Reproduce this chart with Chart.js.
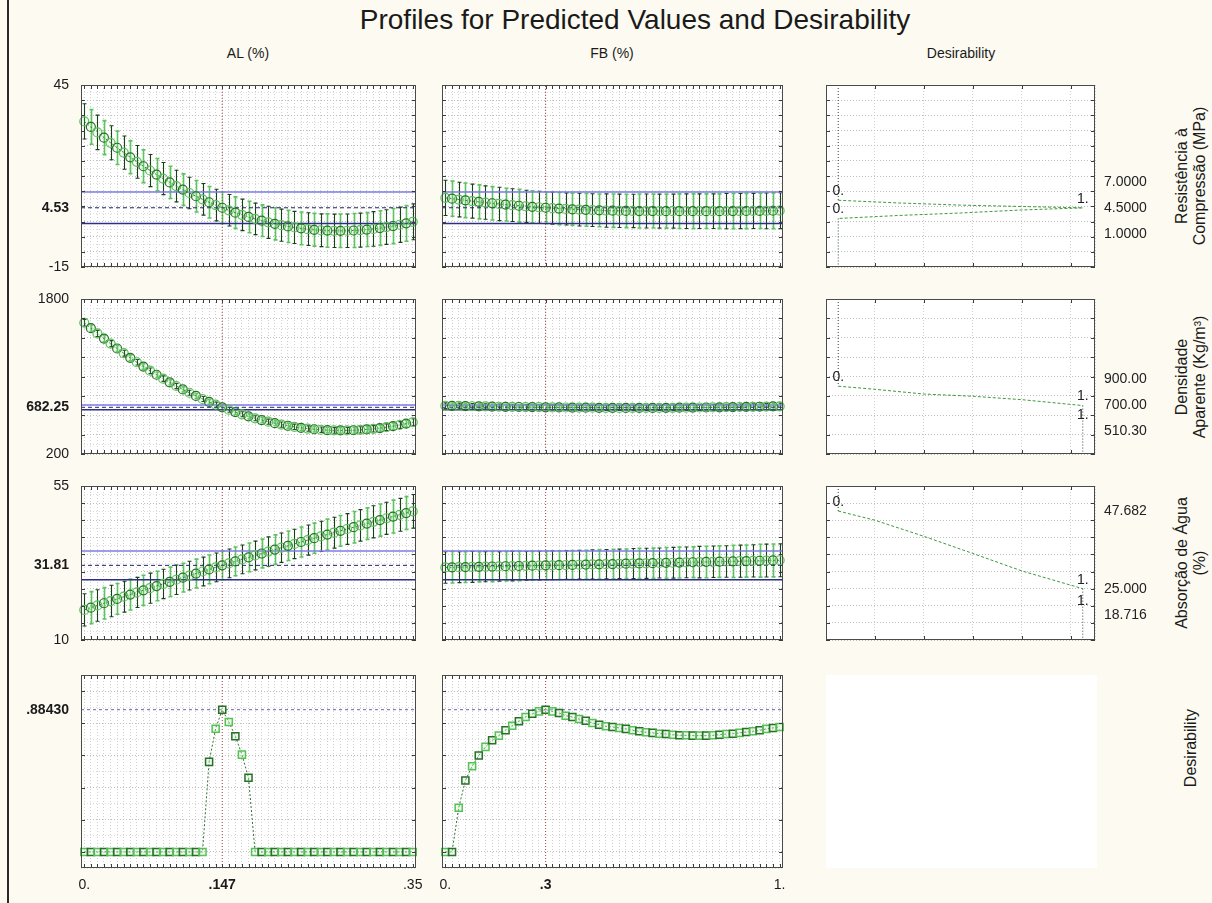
<!DOCTYPE html>
<html lang="pt">
<head>
<meta charset="utf-8">
<title>Profiles for Predicted Values and Desirability</title>
<script src="https://cdn.jsdelivr.net/npm/chart.js@4.4.1/dist/chart.umd.min.js"></script>
<style>
  html, body { margin: 0; padding: 0; }
  body { width: 1212px; height: 903px; position: relative; overflow: hidden; background: #fcfaf1;
         font-family: "Liberation Sans", Arial, sans-serif; color: #1a1a1a; }
  .edge { position: absolute; left: 7px; top: 0; width: 2px; height: 903px; background: #2a2a2a; }
  .title { position: absolute; left: 635px; top: 20px; transform: translate(-50%, -50%); font-size: 28px; white-space: nowrap; }
  .head { position: absolute; top: 53px; transform: translate(-50%, -50%); font-size: 14px; white-space: nowrap; }
  .side { position: absolute; transform: translate(-50%, -50%) rotate(-90deg); font-size: 16px; line-height: 18px;
          text-align: center; white-space: nowrap; }
  .blank { position: absolute; left: 826px; top: 675px; width: 271px; height: 193px; background: #ffffff; }
  canvas { position: absolute; }
</style>
</head>
<body>
<div class="edge"></div>
<div class="title">Profiles for Predicted Values and Desirability</div>
<div class="blank"></div>
<script>
// ---------- factor levels ----------
const alLevels = [0, .007, .014, .021, .028, .035, .042, .049, .056, .063,
  .07, .077, .084, .091, .098, .105, .112, .119, .126, .133,
  .14, .147, .154, .161, .168, .175, .182, .189, .196, .203,
  .21, .217, .224, .231, .238, .245, .252, .259, .266, .273,
  .28, .287, .294, .301, .308, .315, .322, .329, .336, .343, .35];
const fbLevels = [0, .02, .04, .06, .08, .1, .12, .14, .16, .18,
  .2, .22, .24, .26, .28, .3, .32, .34, .36, .38,
  .4, .42, .44, .46, .48, .5, .52, .54, .56, .58,
  .6, .62, .64, .66, .68, .7, .72, .74, .76, .78,
  .8, .82, .84, .86, .88, .9, .92, .94, .96, .98, 1];

// ---------- predicted responses and confidence half-widths ----------
const resAL = [33.00, 31.17, 29.38, 27.64, 25.95, 24.31, 22.71, 21.17, 19.67, 18.22,
  16.81, 15.46, 14.15, 12.89, 11.68, 10.51, 9.40, 8.33, 7.31, 6.34,
  5.41, 4.53, 3.70, 2.92, 2.19, 1.50, 0.86, 0.27, -0.27, -0.76,
  -1.21, -1.61, -1.96, -2.26, -2.52, -2.73, -2.89, -3.00, -3.06, -3.08,
  -3.05, -2.97, -2.84, -2.66, -2.44, -2.17, -1.85, -1.49, -1.07, -0.61, -0.10];
const resALci = [5.8, 5.7, 5.7, 5.6, 5.6, 5.5, 5.5, 5.4, 5.4, 5.4,
  5.3, 5.3, 5.3, 5.3, 5.2, 5.2, 5.2, 5.2, 5.2, 5.2,
  5.2, 5.2, 5.2, 5.2, 5.2, 5.2, 5.2, 5.2, 5.3, 5.3,
  5.3, 5.3, 5.3, 5.4, 5.4, 5.4, 5.4, 5.5, 5.5, 5.5,
  5.5, 5.6, 5.6, 5.6, 5.7, 5.7, 5.7, 5.8, 5.8, 5.9, 5.9];
const resFB = [7.80, 7.51, 7.24, 6.97, 6.72, 6.47, 6.23, 6.01, 5.79, 5.58,
  5.38, 5.19, 5.02, 4.85, 4.69, 4.53, 4.40, 4.27, 4.15, 4.03,
  3.93, 3.84, 3.76, 3.69, 3.62, 3.57, 3.53, 3.49, 3.47, 3.45,
  3.45, 3.44, 3.43, 3.42, 3.41, 3.40, 3.40, 3.40, 3.40, 3.41,
  3.41, 3.42, 3.43, 3.44, 3.45, 3.46, 3.48, 3.50, 3.52, 3.54, 3.56];
const resFBci = [5.8, 5.8, 5.7, 5.7, 5.6, 5.6, 5.5, 5.5, 5.5, 5.4,
  5.4, 5.4, 5.3, 5.3, 5.3, 5.2, 5.3, 5.3, 5.3, 5.3,
  5.4, 5.4, 5.4, 5.4, 5.5, 5.5, 5.5, 5.5, 5.5, 5.6,
  5.6, 5.6, 5.6, 5.6, 5.6, 5.7, 5.7, 5.7, 5.7, 5.7,
  5.7, 5.7, 5.8, 5.8, 5.8, 5.8, 5.8, 5.8, 5.9, 5.9, 5.9];
const denAL = [1555.0, 1498.9, 1444.3, 1391.2, 1339.5, 1289.2, 1240.4, 1193.1, 1147.2, 1102.7,
  1059.7, 1018.1, 978.0, 939.4, 902.1, 866.4, 832.1, 799.2, 767.8, 737.8,
  709.3, 682.25, 656.6, 632.5, 609.8, 588.5, 568.7, 550.3, 533.4, 517.9,
  503.9, 491.4, 480.2, 470.6, 462.4, 455.6, 450.3, 446.4, 444.0, 443.0,
  443.5, 445.4, 448.8, 453.6, 459.9, 467.6, 476.8, 487.4, 499.5, 513.0, 528.0];
const denALci = [34, 33, 32, 32, 31, 31, 30, 30, 29, 29,
  28, 28, 28, 27, 27, 27, 26, 26, 26, 26,
  26, 26, 26, 26, 26, 26, 26, 26, 27, 27,
  27, 27, 28, 28, 28, 29, 29, 29, 30, 30,
  31, 31, 32, 32, 33, 33, 34, 34, 35, 36, 36];
const denFB = [698, 697, 696, 694, 693, 692, 691, 689, 688, 687,
  686, 685, 684, 684, 683, 682.25, 681, 681, 680, 679,
  679, 678, 678, 677, 677, 677, 676, 676, 676, 676,
  676, 676, 677, 677, 677, 678, 678, 679, 680, 680,
  681, 682, 683, 684, 685, 686, 687, 688, 689, 691, 692];
const denFBci = [30, 30, 29, 29, 28, 28, 28, 27, 27, 27,
  27, 26, 26, 26, 26, 26, 26, 26, 26, 26,
  26, 26, 27, 27, 27, 27, 27, 27, 28, 28,
  28, 28, 28, 29, 29, 29, 29, 29, 30, 30,
  30, 30, 31, 31, 31, 31, 32, 32, 32, 33, 33];
const absAL = [18.80, 19.45, 20.09, 20.74, 21.38, 22.01, 22.65, 23.28, 23.91, 24.53,
  25.15, 25.77, 26.39, 27.00, 27.61, 28.22, 28.82, 29.42, 30.02, 30.62,
  31.21, 31.81, 32.38, 32.97, 33.55, 34.13, 34.70, 35.27, 35.84, 36.41,
  36.97, 37.53, 38.08, 38.64, 39.19, 39.74, 40.28, 40.82, 41.36, 41.90,
  42.43, 42.96, 43.49, 44.01, 44.53, 45.05, 45.57, 46.08, 46.59, 47.10, 47.60];
const absALci = [4.7, 4.7, 4.6, 4.6, 4.6, 4.5, 4.5, 4.5, 4.4, 4.4,
  4.4, 4.3, 4.3, 4.3, 4.3, 4.2, 4.2, 4.2, 4.2, 4.2,
  4.2, 4.2, 4.2, 4.2, 4.2, 4.2, 4.2, 4.2, 4.3, 4.3,
  4.3, 4.3, 4.3, 4.4, 4.4, 4.4, 4.4, 4.5, 4.5, 4.5,
  4.5, 4.6, 4.6, 4.6, 4.7, 4.7, 4.7, 4.8, 4.8, 4.8, 4.9];
const absFB = [31.20, 31.24, 31.28, 31.31, 31.35, 31.39, 31.43, 31.47, 31.51, 31.55,
  31.59, 31.63, 31.67, 31.71, 31.75, 31.81, 31.83, 31.87, 31.91, 31.95,
  31.99, 32.04, 32.08, 32.12, 32.16, 32.20, 32.24, 32.29, 32.33, 32.37,
  32.41, 32.46, 32.50, 32.54, 32.58, 32.63, 32.67, 32.72, 32.76, 32.80,
  32.85, 32.89, 32.94, 32.98, 33.03, 33.07, 33.12, 33.16, 33.21, 33.25, 33.30];
const absFBci = [4.6, 4.6, 4.5, 4.5, 4.5, 4.4, 4.4, 4.4, 4.3, 4.3,
  4.3, 4.3, 4.2, 4.2, 4.2, 4.2, 4.2, 4.2, 4.2, 4.2,
  4.2, 4.2, 4.3, 4.3, 4.3, 4.3, 4.3, 4.3, 4.4, 4.4,
  4.4, 4.4, 4.4, 4.5, 4.5, 4.5, 4.5, 4.5, 4.6, 4.6,
  4.6, 4.6, 4.6, 4.7, 4.7, 4.7, 4.7, 4.8, 4.8, 4.8, 4.8];

// ---------- overall desirability ----------
const desAL = [0, 0, 0, 0, 0, 0, 0, 0, 0, 0,
  0, 0, 0, 0, 0, 0, 0, 0, 0, 0.56,
  0.766, 0.8843, 0.808, 0.719, 0.605, 0.461, 0, 0, 0, 0,
  0, 0, 0, 0, 0, 0, 0, 0, 0, 0,
  0, 0, 0, 0, 0, 0, 0, 0, 0, 0, 0];
const desFB = [0, 0, 0.275, 0.444, 0.533, 0.599, 0.653, 0.694, 0.723, 0.756,
  0.785, 0.812, 0.839, 0.859, 0.874, 0.8843, 0.874, 0.864, 0.847, 0.839,
  0.826, 0.816, 0.802, 0.791, 0.781, 0.777, 0.771, 0.765, 0.756, 0.750,
  0.744, 0.740, 0.735, 0.733, 0.729, 0.725, 0.725, 0.723, 0.723, 0.723,
  0.725, 0.729, 0.733, 0.735, 0.740, 0.746, 0.750, 0.756, 0.765, 0.771, 0.777];

// ---------- current settings ----------
const alCurrent = 0.147;
const fbCurrent = 0.3;
const predCurrent = [4.53, 682.25, 31.81];
const ciLower = [-0.67, 657, 27.6];
const ciUpper = [9.73, 707, 36.0];
const desCurrent = 0.8843;

// ---------- axis labels ----------
const yTickValues = [[-15, 4.53, 45], [200, 682.25, 1800], [10, 31.81, 55], [0.8843]];
const yTickLabels = [['-15', '4.53', '45'], ['200', '682.25', '1800'], ['10', '31.81', '55'], ['.88430']];
const alTickValues = [0, 0.147, 0.35];
const alTickLabels = ['0.', '.147', '.35'];
const fbTickValues = [0, 0.3, 1];
const fbTickLabels = ['0.', '.3', '1.'];
const factorNames = ['AL (%)', 'FB (%)', 'Desirability'];
const responseNames = [['Resistência à', 'Compressão (MPa)'], ['Densidade', 'Aparente (Kg/m³)'],
  ['Absorção de Água', '(%)'], ['Desirability']];

// ---------- desirability functions (high, target, low) ----------
const specValues = [[7.0, 4.5, 1.0], [900, 700, 510.3], [47.682, 25, 18.716]];
const specLabels = [['7.0000', '4.5000', '1.0000'], ['900.00', '700.00', '510.30'], ['47.682', '25.000', '18.716']];
const specDes = [[0, 1, 0], [0, 1, 1], [0, 1, 1]];
const resDfnD = [0, 0, 0.25, 0.5, 0.75, 1, 0.75, 0.5, 0.25, 0, 0];
const resDfnY = [45, 7.0, 6.1, 5.4, 4.95, 4.5, 3.8, 2.8, 2.0, 1.0, -15];
const denDfnD = [0, 0, 0.15, 0.35, 0.55, 0.75, 1, 1, 1];
const denDfnY = [1800, 900, 868, 819, 796, 761, 700, 510.3, 200];
const absDfnD = [0, 0, 0.15, 0.35, 0.55, 0.75, 1, 1, 1];
const absDfnY = [55, 47.682, 45.0, 40.3, 35.3, 30.2, 25.0, 18.716, 10];

// ---------- layout and style ----------
const FONT = '"Liberation Sans", Arial, sans-serif';
Chart.defaults.font.family = FONT;
Chart.defaults.font.size = 14;
Chart.defaults.color = '#1a1a1a';

const colBox = [{ l: 81, w: 335 }, { l: 442, w: 341 }, { l: 826, w: 269 }];
const rowBox = [{ t: 85, h: 182 }, { t: 299, h: 155 }, { t: 486, h: 154 }, { t: 675, h: 193 }];
const sideTitleY = [176, 377, 563, 748];
const rowScale = [
  { min: -15, max: 45, minor: 2.5, major: 5 },
  { min: 200, max: 1800, minor: 100, major: 200 },
  { min: 10, max: 55, minor: 2.5, major: 5 },
  { min: -0.1, max: 1.1, minor: 0.1, major: 0.2 }
];
const dGrid = [-0.05, 0.15, 0.35, 0.55, 0.75, 0.95, 1.05];
const PAD = 24;
const markerDark = '#2a6e2a', markerLight = '#56c256';
const barStyles = [{ color: '#183f18', width: 1.1 }, { color: '#5cc45c', width: 1.6 }];

function stepTicks(min, max, step) {
  const out = [];
  const n = Math.round((max - min) / step);
  for (let k = 0; k <= n; k++) out.push(+(min + k * step).toFixed(6));
  return out;
}
const isMajor = (v, step) => Math.abs(v / step - Math.round(v / step)) < 1e-6;

function addCanvas(l, t, w, h) {
  const c = document.createElement('canvas');
  c.width = w; c.height = h;
  c.style.left = l + 'px'; c.style.top = t + 'px';
  c.style.width = w + 'px'; c.style.height = h + 'px';
  document.body.appendChild(c);
  return c;
}

// ---------- plugins ----------
const errorBars = {
  id: 'errorBars',
  beforeDatasetsDraw(chart, args, opts) {
    const { ctx, chartArea: a } = chart;
    chart.data.datasets.forEach((ds, di) => {
      if (!ds.err) return;
      const meta = chart.getDatasetMeta(di);
      const xs = chart.scales[meta.xAxisID], ys = chart.scales[meta.yAxisID];
      ctx.save();
      ctx.beginPath(); ctx.rect(a.left, a.top, a.width, a.height); ctx.clip();
      ds.data.forEach((p, i) => {
        const x = Math.round(xs.getPixelForValue(p.x)) + 0.5;
        const lo = ys.getPixelForValue(p.y - ds.err[i]);
        const hi = ys.getPixelForValue(p.y + ds.err[i]);
        const st = opts.styles[i % 2];
        ctx.strokeStyle = st.color; ctx.lineWidth = st.width;
        ctx.beginPath();
        ctx.moveTo(x, lo); ctx.lineTo(x, hi);
        ctx.moveTo(x - 2, lo); ctx.lineTo(x + 2, lo);
        ctx.moveTo(x - 2, hi); ctx.lineTo(x + 2, hi);
        ctx.stroke();
      });
      ctx.restore();
    });
  }
};

const panelFrame = {
  id: 'panelFrame',
  beforeDraw(chart) {
    const { ctx, chartArea: a } = chart;
    ctx.save(); ctx.fillStyle = '#ffffff'; ctx.fillRect(a.left, a.top, a.width, a.height); ctx.restore();
  },
  afterDraw(chart, args, o) {
    const { ctx, chartArea: a } = chart;
    const xs = chart.scales.x, ys = chart.scales.y;
    ctx.save();
    ctx.strokeStyle = '#3a3a3a'; ctx.lineWidth = 1;
    ctx.beginPath();
    o.xMarks.forEach(v => {
      const p = Math.round(xs.getPixelForValue(v)) + 0.5;
      ctx.moveTo(p, a.top); ctx.lineTo(p, a.top + o.len);
      ctx.moveTo(p, a.bottom); ctx.lineTo(p, a.bottom - o.len);
    });
    o.yMarks.forEach(v => {
      const p = Math.round(ys.getPixelForValue(v)) + 0.5;
      ctx.moveTo(a.left, p); ctx.lineTo(a.left + o.len, p);
      ctx.moveTo(a.right, p); ctx.lineTo(a.right - o.len, p);
    });
    ctx.stroke();
    ctx.strokeStyle = '#4a4a4a';
    ctx.strokeRect(a.left + 0.5, a.top + 0.5, a.width - 1, a.height - 1);
    ctx.restore();
  }
};

const dfnText = {
  id: 'dfnText',
  afterDatasetsDraw(chart, args, o) {
    const { ctx, chartArea: a } = chart;
    const xs = chart.scales.x, ys = chart.scales.y;
    ctx.save();
    ctx.font = '14px ' + FONT; ctx.fillStyle = '#222';
    ctx.textAlign = 'center'; ctx.textBaseline = 'middle';
    o.values.forEach((v, i) => {
      ctx.fillText(o.des[i] ? '1.' : '0.', xs.getPixelForValue(o.des[i]), ys.getPixelForValue(v) - 9);
    });
    // value labels on the right, spread apart around the target
    const pos = o.values.map(v => ys.getPixelForValue(v));
    pos[0] = Math.min(pos[0], pos[1] - o.gap);
    pos[2] = Math.max(pos[2], pos[1] + o.gap);
    ctx.textAlign = 'left';
    o.labels.forEach((t, i) => ctx.fillText(t, a.right + 9, pos[i]));
    ctx.restore();
  }
};

function gridScales(xmin, xmax, xTicks, sc) {
  const yT = stepTicks(sc.min, sc.max, sc.minor);
  return {
    x: {
      type: 'linear', min: xmin, max: xmax, position: 'bottom',
      afterBuildTicks: s => { s.ticks = xTicks.map(v => ({ value: v })); },
      ticks: { display: false },
      grid: { drawTicks: false, color: '#d0d0d0', lineWidth: 1 },
      border: { display: false, dash: [1, 2] }
    },
    y: {
      type: 'linear', min: sc.min, max: sc.max, position: 'left',
      afterBuildTicks: s => { s.ticks = yT.map(v => ({ value: v })); },
      ticks: { display: false },
      grid: { drawTicks: false, lineWidth: 1,
              color: c => (c.tick && isMajor(c.tick.value, sc.major)) ? '#bcbcbc' : '#dcdcdc' },
      border: { display: false, dash: [1, 2] }
    }
  };
}

// ---------- one profile panel (columns 1 and 2) ----------
function profilePanel(r, c, xs, ys, ci, cur, xTickVals, xTickLbls) {
  const cb = colBox[c], rb = rowBox[r], sc = rowScale[r];
  const isDes = r === 3;
  const leftW = c === 0 ? cb.l : PAD;
  const bottom = isDes ? 34 : PAD;
  const canvas = addCanvas(cb.l - leftW, rb.t - PAD, leftW + cb.w + PAD, PAD + rb.h + bottom);
  const span = xs[xs.length - 1] - xs[0];
  const xmin = xs[0] - 0.01 * span, xmax = xs[xs.length - 1] + 0.01 * span;

  const datasets = [{
    data: xs.map((x, i) => ({ x, y: ys[i] })),
    err: ci,
    borderColor: '#2f6f2f', borderWidth: 1, borderDash: [2, 2],
    pointStyle: isDes ? 'rect' : 'circle',
    pointRadius: isDes ? 5 : 4.5,
    pointBorderWidth: isDes ? 1.5 : 1.2,
    pointBorderColor: xs.map((_, i) => i % 2 ? markerDark : markerLight),
    pointBackgroundColor: isDes ? 'rgba(200,240,200,0.35)' : 'rgba(140,220,140,0.12)',
    clip: false
  }];
  if (!isDes) {
    datasets.push({ data: [{ x: xmin, y: ciUpper[r] }, { x: xmax, y: ciUpper[r] }],
      borderColor: '#7d7de6', borderWidth: 1.5, pointRadius: 0 });
    datasets.push({ data: [{ x: xmin, y: ciLower[r] }, { x: xmax, y: ciLower[r] }],
      borderColor: '#2e2e88', borderWidth: 1.5, pointRadius: 0 });
    datasets.push({ data: [{ x: xmin, y: predCurrent[r] }, { x: xmax, y: predCurrent[r] }],
      borderColor: '#25256e', borderWidth: 1, borderDash: [4, 3], pointRadius: 0 });
  } else {
    datasets.push({ data: [{ x: xmin, y: desCurrent }, { x: xmax, y: desCurrent }],
      borderColor: '#6464b4', borderWidth: 1, borderDash: [3, 3], pointRadius: 0 });
  }
  datasets.push({ data: [{ x: cur, y: sc.min }, { x: cur, y: sc.max }],
    borderColor: '#a84848', borderWidth: 1, borderDash: [1, 2], pointRadius: 0 });

  const scales = gridScales(xmin, xmax, xs, sc);
  const boldY = isDes ? desCurrent : predCurrent[r];
  if (c === 0) {
    scales.yl = {
      type: 'linear', min: sc.min, max: sc.max, position: 'left',
      afterBuildTicks: s => { s.ticks = yTickValues[r].map(v => ({ value: v })); },
      afterFit: s => { s.width = leftW; },
      grid: { display: false, drawTicks: false }, border: { display: false },
      ticks: { padding: 12, autoSkip: false, callback: (v, i) => yTickLabels[r][i],
               font: ctx => ({ size: 14, weight: (ctx.tick && ctx.tick.value === boldY) ? 'bold' : 'normal' }) }
    };
  }
  if (isDes) {
    scales.xl = {
      type: 'linear', min: xmin, max: xmax, position: 'bottom',
      afterBuildTicks: s => { s.ticks = xTickVals.map(v => ({ value: v })); },
      afterFit: s => { s.height = 30; },
      grid: { display: false, drawTicks: false }, border: { display: false },
      ticks: { padding: 9, autoSkip: false, maxRotation: 0, callback: (v, i) => xTickLbls[i],
               font: ctx => ({ size: 14, weight: (ctx.tick && Math.abs(ctx.tick.value - cur) < 1e-9) ? 'bold' : 'normal' }) }
    };
  }

  new Chart(canvas, {
    type: 'line',
    data: { datasets },
    options: {
      responsive: false, animation: false, devicePixelRatio: 1, events: [],
      layout: { padding: { left: c === 0 ? 0 : PAD, right: PAD, top: PAD, bottom: isDes ? 4 : PAD } },
      plugins: {
        legend: { display: false }, tooltip: { enabled: false },
        errorBars: { styles: barStyles },
        panelFrame: { xMarks: xs, yMarks: stepTicks(isDes ? 0 : sc.min, isDes ? 1 : sc.max, sc.major), len: 4 }
      },
      scales
    },
    plugins: [panelFrame, errorBars]
  });
}

// ---------- one desirability-function panel (column 3) ----------
function desirabilityPanel(r, dArr, yArr) {
  const cb = colBox[2], rb = rowBox[r], sc = rowScale[r];
  const right = 90;
  const canvas = addCanvas(cb.l - PAD, rb.t - PAD, PAD + cb.w + right, PAD + rb.h + PAD);
  const scales = gridScales(-0.05, 1.05, dGrid, { min: sc.min, max: sc.max, minor: sc.major, major: sc.major });
  const vertical = c => c.p0.parsed.x === c.p1.parsed.x;
  new Chart(canvas, {
    type: 'line',
    data: {
      datasets: [{
        data: dArr.map((d, i) => ({ x: d, y: yArr[i] })),
        borderColor: '#3e9a3e', borderWidth: 1, borderDash: [3, 2], pointRadius: 0,
        segment: {
          borderColor: c => vertical(c) ? '#2a4a2c' : undefined,
          borderDash: c => vertical(c) ? [1, 2] : undefined
        }
      }]
    },
    options: {
      responsive: false, animation: false, devicePixelRatio: 1, events: [],
      layout: { padding: { left: PAD, right: right, top: PAD, bottom: PAD } },
      plugins: {
        legend: { display: false }, tooltip: { enabled: false },
        panelFrame: { xMarks: dGrid.slice(1, -1), yMarks: stepTicks(sc.min, sc.max, sc.major), len: 4 },
        dfnText: { values: specValues[r], labels: specLabels[r], des: specDes[r], gap: 26 }
      },
      scales
    },
    plugins: [panelFrame, dfnText]
  });
}

// ---------- headers and response titles ----------
const headX = [248, 612, 961];
factorNames.forEach((t, i) => {
  const d = document.createElement('div');
  d.className = 'head'; d.style.left = headX[i] + 'px'; d.textContent = t;
  document.body.appendChild(d);
});
responseNames.forEach((lines, r) => {
  const d = document.createElement('div');
  d.className = 'side';
  d.style.left = '1191px';
  d.style.top = sideTitleY[r] + 'px';
  d.innerHTML = lines.join('<br>');
  document.body.appendChild(d);
});

// ---------- build the grid of panels ----------
profilePanel(0, 0, alLevels, resAL, resALci, alCurrent);
profilePanel(0, 1, fbLevels, resFB, resFBci, fbCurrent);
profilePanel(1, 0, alLevels, denAL, denALci, alCurrent);
profilePanel(1, 1, fbLevels, denFB, denFBci, fbCurrent);
profilePanel(2, 0, alLevels, absAL, absALci, alCurrent);
profilePanel(2, 1, fbLevels, absFB, absFBci, fbCurrent);
profilePanel(3, 0, alLevels, desAL, null, alCurrent, alTickValues, alTickLabels);
profilePanel(3, 1, fbLevels, desFB, null, fbCurrent, fbTickValues, fbTickLabels);
desirabilityPanel(0, resDfnD, resDfnY);
desirabilityPanel(1, denDfnD, denDfnY);
desirabilityPanel(2, absDfnD, absDfnY);
</script>
</body>
</html>
